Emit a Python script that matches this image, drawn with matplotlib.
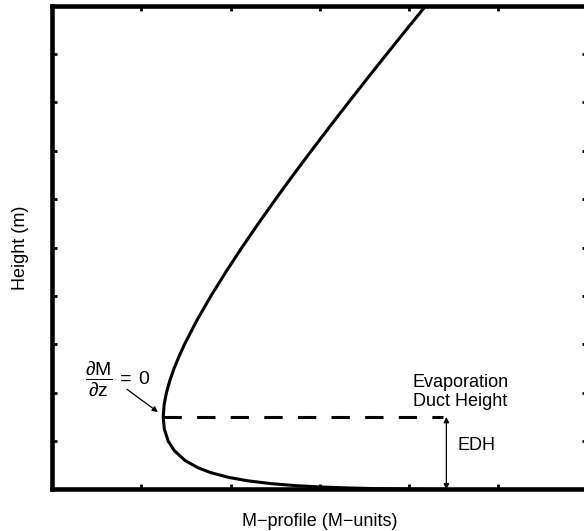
import matplotlib
matplotlib.use("Agg")
import matplotlib.pyplot as plt

plt.rcParams['font.family'] = ['Liberation Sans', 'DejaVu Sans']
plt.rcParams['mathtext.fontset'] = 'custom'
plt.rcParams['mathtext.rm'] = 'Liberation Sans'
plt.rcParams['mathtext.it'] = 'Liberation Sans'

# M-profile (arbitrary units), top to bottom
m_profile = [4.190, 3.969, 3.751, 3.535, 3.322, 3.112, 2.905, 2.702, 2.504,
             2.312, 2.126, 1.948, 1.779, 1.623, 1.483, 1.421, 1.365, 1.318,
             1.280, 1.254, 1.244, 1.256, 1.300, 1.370, 1.489, 1.633, 1.774,
             1.978, 2.189, 2.457, 2.726, 3.030, 3.339, 3.701, 4.099, 4.416]
height = [10.0, 9.5, 9.0, 8.5, 8.0, 7.5, 7.0, 6.5, 6.0,
          5.5, 5.0, 4.5, 4.0, 3.5, 3.0, 2.75, 2.5, 2.25,
          2.0, 1.75, 1.5, 1.25, 1.0, 0.8, 0.6, 0.45, 0.35,
          0.25, 0.18, 0.12, 0.08, 0.05, 0.03, 0.015, 0.005, 0.0]

edh = 1.5
m_min = 1.244
edh_x = 4.42
x_ticks = list(range(0, 7))
y_ticks = list(range(0, 11))


def plot():
    fig = plt.figure(figsize=(5.84, 5.31), dpi=100)
    ax = fig.add_axes([0.0896, 0.0782, 0.9159, 0.9111])

    ax.plot(m_profile, height, color='black', lw=2.2, solid_capstyle='butt')
    ax.plot([m_min, edh_x - 0.04], [edh, edh], color='black', lw=2.2,
            dashes=(6, 5))

    ax.annotate('', xy=(edh_x, 0.0), xytext=(edh_x, edh),
                arrowprops=dict(arrowstyle='<|-|>', color='black', lw=0.9,
                                mutation_scale=8, shrinkA=0, shrinkB=0))
    ax.text(4.55, 0.90, 'EDH', fontsize=13, ha='left', va='center')
    ax.text(4.58, 2.01, 'Evaporation\nDuct Height', fontsize=13,
            ha='center', va='center', linespacing=1.15)

    # dM/dz = 0 label and its arrow
    ax.text(0.73, 2.28,
            r'$\dfrac{\partial \mathrm{M}}{\partial \mathrm{z}}\,=\;0$',
            fontsize=14, ha='center', va='center')
    ax.annotate('', xy=(1.185, 1.60), xytext=(0.838, 2.07),
                arrowprops=dict(arrowstyle='-|>', color='black', lw=0.9,
                                mutation_scale=8, shrinkA=0, shrinkB=0))

    ax.set_xlim(0, 6)
    ax.set_ylim(0, 10)
    ax.set_xticks(x_ticks)
    ax.set_yticks(y_ticks)
    ax.tick_params(direction='in', length=3.8, width=2, top=True, right=True,
                   labelbottom=False, labelleft=False)
    for s in ax.spines.values():
        s.set_linewidth(3.3)

    ax.set_xlabel('M\u2212profile (M\u2212units)', fontsize=13, labelpad=17)
    ax.set_ylabel('Height (m)', fontsize=13, labelpad=17)

    fig.savefig('out.png', dpi=100)


def main():
    plot()

if __name__ == "__main__":
    main()
